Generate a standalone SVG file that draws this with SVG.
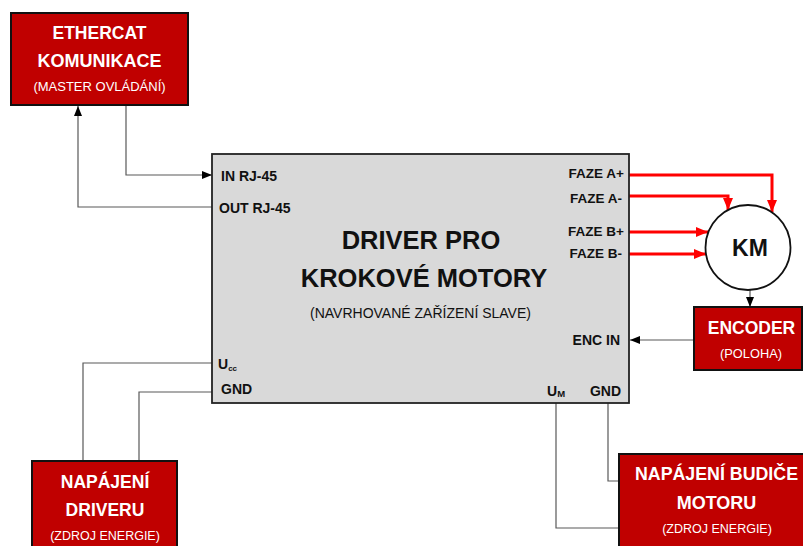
<svg xmlns="http://www.w3.org/2000/svg" width="803" height="546" viewBox="0 0 803 546">
<style>
text{font-family:"Liberation Sans",Arial,sans-serif;}
.b{font-weight:bold;}
.w{fill:#fff;}
.k{fill:#111;}
.red{fill:#C00000;stroke:#111;stroke-width:2;}
.conn{fill:none;stroke:#595959;stroke-width:1.2;}
.rc{fill:none;stroke:#FF0000;stroke-width:3;}
</style>
<defs>
<marker id="ak" markerUnits="userSpaceOnUse" markerWidth="10" markerHeight="10" viewBox="0 0 10 10" refX="10" refY="5" orient="auto">
<path d="M0,1 L10,5 L0,9 Z" fill="#000"/>
</marker>
<marker id="ar" markerUnits="userSpaceOnUse" markerWidth="12" markerHeight="12" viewBox="0 0 12 12" refX="12" refY="6" orient="auto">
<path d="M0,1 L12,6 L0,11 Z" fill="#FF0000"/>
</marker>
</defs>

<g id="connectors">
<path class="conn" d="M212,207 H78 V106" marker-end="url(#ak)"/>
<path class="conn" d="M126,106 V175 H212" marker-end="url(#ak)"/>
<path class="rc" d="M629,175 H772 V212" marker-end="url(#ar)"/>
<path class="rc" d="M629,196 H728 V210" marker-end="url(#ar)"/>
<path class="rc" d="M629,232 H708" marker-end="url(#ar)"/>
<path class="rc" d="M629,254 H706" marker-end="url(#ar)"/>
<path class="conn" d="M750,290 V307" marker-end="url(#ak)"/>
<path class="conn" d="M694,340 H630" marker-end="url(#ak)"/>
<path class="conn" d="M212,363 H83 V461"/>
<path class="conn" d="M212,392 H139 V461"/>
<path class="conn" d="M556,403 V528 H619"/>
<path class="conn" d="M608,403 V481 H619"/>
</g>

<g id="ethercat">
<rect class="red" x="11" y="13" width="177" height="92"/>
<text class="b w" x="99.5" y="39" font-size="17.5" text-anchor="middle">ETHERCAT</text>
<text class="b w" x="99.5" y="67" font-size="18" text-anchor="middle">KOMUNIKACE</text>
<text class="w" x="99.5" y="91" font-size="13" text-anchor="middle">(MASTER OVLÁDÁNÍ)</text>
</g>

<g id="driver">
<rect x="212" y="154" width="417" height="249" fill="#D9D9D9" stroke="#222" stroke-width="1.8"/>
<text class="b k" x="421" y="249" font-size="25.5" text-anchor="middle">DRIVER PRO</text>
<text class="b k" x="424" y="287" font-size="25.5" text-anchor="middle">KROKOVÉ MOTORY</text>
<text class="k" x="420.5" y="318" font-size="14" text-anchor="middle">(NAVRHOVANÉ ZAŘÍZENÍ SLAVE)</text>
<text class="b k" x="221" y="181" font-size="14">IN RJ-45</text>
<text class="b k" x="219" y="213" font-size="14">OUT RJ-45</text>
<text class="b k" x="624" y="178" font-size="13.5" text-anchor="end">FAZE A+</text>
<text class="b k" x="622" y="203" font-size="13.5" text-anchor="end">FAZE A-</text>
<text class="b k" x="624" y="236" font-size="13.5" text-anchor="end">FAZE B+</text>
<text class="b k" x="622" y="258" font-size="13.5" text-anchor="end">FAZE B-</text>
<text class="b k" x="620" y="345" font-size="14" text-anchor="end">ENC IN</text>
<text class="b k" x="218" y="369" font-size="14">U<tspan font-size="8" dy="2">cc</tspan></text>
<text class="b k" x="221" y="394" font-size="14">GND</text>
<text class="b k" x="547" y="396" font-size="14">U<tspan font-size="9.5" dy="1">M</tspan></text>
<text class="b k" x="621" y="396" font-size="14" text-anchor="end">GND</text>
</g>

<g id="km">
<circle cx="748" cy="247.5" r="42.5" fill="#fff" stroke="#111" stroke-width="1.8"/>
<text class="b k" x="750" y="256" font-size="23" text-anchor="middle">KM</text>
</g>

<g id="encoder">
<rect class="red" x="694" y="307" width="108" height="63"/>
<text class="b w" x="751.5" y="334" font-size="17.5" text-anchor="middle">ENCODER</text>
<text class="w" x="751" y="358" font-size="12.8" text-anchor="middle">(POLOHA)</text>
</g>

<g id="napajeni-driveru">
<rect class="red" x="32" y="461" width="145" height="95"/>
<text class="b w" x="105" y="488" font-size="17.5" text-anchor="middle">NAPÁJENÍ</text>
<text class="b w" x="105" y="516" font-size="17.5" text-anchor="middle">DRIVERU</text>
<text class="w" x="105" y="540" font-size="12.5" text-anchor="middle">(ZDROJ ENERGIE)</text>
</g>

<g id="napajeni-budice">
<rect class="red" x="619" y="454" width="200" height="102"/>
<text class="b w" x="716.5" y="480" font-size="17.8" text-anchor="middle">NAPÁJENÍ BUDIČE</text>
<text class="b w" x="716.5" y="509" font-size="18" text-anchor="middle">MOTORU</text>
<text class="w" x="717" y="533" font-size="12.5" text-anchor="middle">(ZDROJ ENERGIE)</text>
</g>
</svg>
